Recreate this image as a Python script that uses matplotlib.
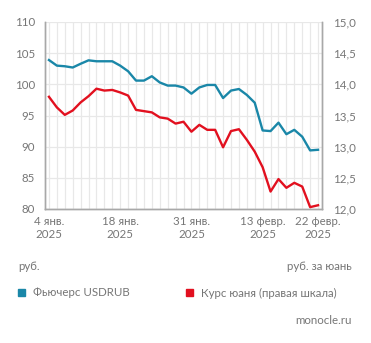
import matplotlib.pyplot as plt

# Data (trading days, 4 Jan - 22 Feb 2025)
usd_futures = [103.9, 103.0, 102.9, 102.7, 103.3, 103.85, 103.7, 103.7, 103.7, 103.0,
               102.1, 100.6, 100.6, 101.3, 100.3, 99.8, 99.8, 99.5, 98.5, 99.5,
               99.9, 99.9, 97.8, 99.0, 99.25, 98.3, 97.05, 92.6, 92.5, 93.85,
               92.0, 92.7, 91.6, 89.4, 89.5]
cny_rate = [13.80, 13.63, 13.51, 13.58, 13.71, 13.81, 13.93, 13.90, 13.91, 13.87,
            13.82, 13.59, 13.57, 13.55, 13.47, 13.45, 13.37, 13.40, 13.24, 13.35,
            13.27, 13.27, 12.99, 13.25, 13.28, 13.11, 12.92, 12.67, 12.28, 12.48,
            12.34, 12.42, 12.36, 12.03, 12.06]
tick_idx = [0, 9, 18, 27, 34]
tick_labels = ['4 янв.\n2025', '18 янв.\n2025', '31 янв.\n2025',
               '13 февр.\n2025', '22 февр.\n2025']
left_ticks = [80, 85, 90, 95, 100, 105, 110]
right_ticks = [12.0, 12.5, 13.0, 13.5, 14.0, 14.5, 15.0]

TEAL = '#1a87a8'
RED = '#e2101f'
TXT = '#767676'
GRID = '#e8e8e8'
SPINE = '#a8a8a8'
FS = 8.3

plt.rcParams['font.family'] = ['Lato', 'Open Sans', 'DejaVu Sans']

W, H = 371, 343
fig = plt.figure(figsize=(W / 100, H / 100), dpi=100)
ax = fig.add_axes([45 / W, 1 - 209 / H, 277 / W, 187 / H])
ax2 = ax.twinx()

x = list(range(len(usd_futures)))
ax.plot(x, usd_futures, color=TEAL, lw=1.7, zorder=3)
ax2.plot(x, cny_rate, color=RED, lw=1.7, zorder=3)

ax.set_xlim(-0.5, len(x) - 0.5)
ax.set_ylim(80, 110)
ax2.set_ylim(12, 15)

# grid: every day vertically, every tick horizontally
for i in x:
    ax.axvline(i, color=GRID, lw=0.9, zorder=0)
for v in left_ticks:
    ax.axhline(v, color=GRID, lw=0.9, zorder=0)

ax.set_xticks(tick_idx)
ax.set_xticklabels(tick_labels, fontsize=FS, color=TXT, linespacing=1.2)
ax.set_yticks(left_ticks)
ax.set_yticklabels([str(v) for v in left_ticks], fontsize=FS, color=TXT)
ax2.set_yticks(right_ticks)
ax2.set_yticklabels([f'{v:.1f}'.replace('.', ',') for v in right_ticks],
                    fontsize=FS, color=TXT)

ax.tick_params(axis='x', length=0, pad=5)
ax.tick_params(axis='y', length=0, pad=7)
ax2.tick_params(axis='y', length=0, pad=8)

for a in (ax, ax2):
    a.spines['top'].set_visible(False)
    for s in ('left', 'right', 'bottom'):
        a.spines[s].set_color(SPINE)
        a.spines[s].set_linewidth(1.0)

# units
fig.text(18 / W, 1 - 266 / H, 'руб.', fontsize=FS, color=TXT, va='center')
fig.text(352 / W, 1 - 266 / H, 'руб. за юань', fontsize=FS, color=TXT,
         va='center', ha='right')

# legend
fig.patches.append(plt.Rectangle((18 / W, 1 - 296 / H), 7 / W, 7 / H,
                                 color=TEAL, transform=fig.transFigure))
fig.text(33 / W, 1 - 293 / H, 'Фьючерс USDRUB', fontsize=FS, color=TXT, va='center')
fig.patches.append(plt.Rectangle((186 / W, 1 - 296 / H), 7 / W, 7 / H,
                                 color=RED, transform=fig.transFigure))
fig.text(201 / W, 1 - 293 / H, 'Курс юаня (правая шкала)', fontsize=FS,
         color=TXT, va='center')

fig.text(352 / W, 1 - 320 / H, 'monocle.ru', fontsize=FS, color=TXT,
         va='center', ha='right')

fig.savefig('out.png', dpi=100)
